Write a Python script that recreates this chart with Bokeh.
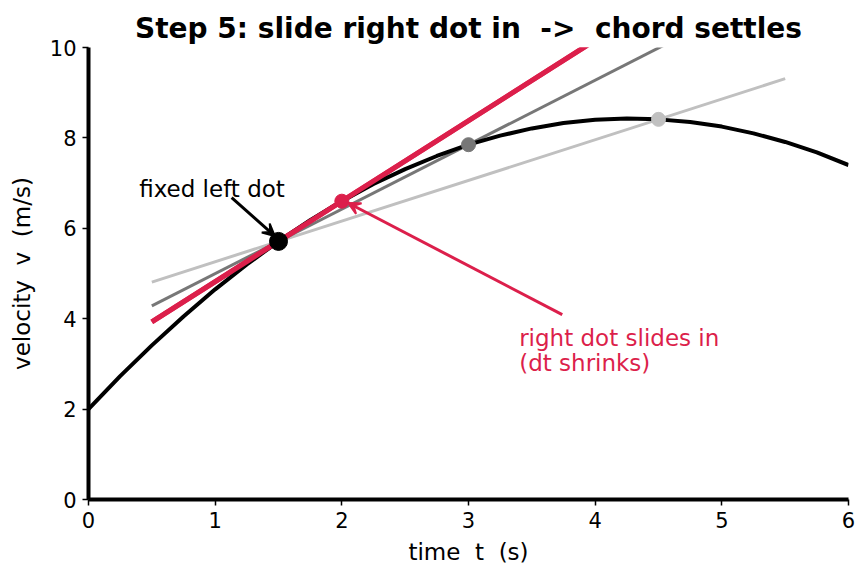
from bokeh.plotting import figure
from bokeh.models import Arrow, VeeHead, Range1d, FixedTicker
from bokeh.embed import file_html
from bokeh.resources import INLINE
from bokeh.core.properties import value

# curve v(t)
curve_t = [0.0, 0.25, 0.5, 0.75, 1.0, 1.25, 1.5, 1.75, 2.0, 2.25, 2.5, 2.75, 3.0,
           3.25, 3.5, 3.75, 4.0, 4.25, 4.5, 4.75, 5.0, 5.25, 5.5, 5.75, 6.0]
curve_v = [2.0, 2.73, 3.41, 4.05, 4.65, 5.20, 5.71, 6.18, 6.60, 6.98, 7.31, 7.60, 7.85,
           8.05, 8.21, 8.33, 8.40, 8.43, 8.41, 8.35, 8.25, 8.10, 7.91, 7.68, 7.40]

left_t, left_v = 1.5, 5.71
right_t = [4.5, 3.0, 2.0]
right_v = [8.41, 7.85, 6.60]
chord_colors = ["#c0c0c0", "#777777", "#dc1f4b"]
chord_widths = [3, 3, 5]
chord_span = [0.5, 5.5]

x_ticks = [0, 1, 2, 3, 4, 5, 6]
y_ticks = [0, 2, 4, 6, 8, 10]

NB = "\u00a0"
title_text = "Step 5: slide right dot in " + NB + "-> " + NB + "chord settles"
x_label = "time " + NB + "t " + NB + "(s)"
y_label = "velocity " + NB + "v " + NB + "(m/s)"

RED = "#dc1f4b"
FONT = "DejaVu Sans"

p = figure(width=868, height=581, output_backend="svg", toolbar_location=None,
           x_range=Range1d(0, 6), y_range=Range1d(0, 10),
           title=title_text,
           min_border_left=88, min_border_right=20, min_border_top=47, min_border_bottom=82)
p.title.align = "center"
p.title.text_font = FONT
p.title.text_font_size = "28px"
p.title.text_font_style = "bold"
p.title.text_color = "black"
p.title.standoff = 6
p.outline_line_color = None
p.grid.visible = False
p.background_fill_color = "white"
p.border_fill_color = "white"

for ax in (p.xaxis, p.yaxis):
    ax.axis_line_width = 4
    ax.axis_line_color = "black"
    ax.major_tick_out = 6
    ax.major_tick_in = 0
    ax.major_tick_line_width = 1.5
    ax.minor_tick_line_color = None
    ax.major_label_text_font = FONT
    ax.major_label_text_font_size = "21px"
    ax.major_label_text_color = "black"
    ax.axis_label_text_font = FONT
    ax.axis_label_text_font_size = "23px"
    ax.axis_label_text_font_style = "normal"
    ax.axis_label_text_color = "black"
p.xaxis.ticker = FixedTicker(ticks=x_ticks)
p.yaxis.ticker = FixedTicker(ticks=y_ticks)
p.xaxis.axis_label = x_label
p.yaxis.axis_label = y_label
p.xaxis.major_label_standoff = 6
p.yaxis.major_label_standoff = 6
p.xaxis.axis_label_standoff = 8
p.yaxis.axis_label_standoff = 12

# chords
for rt, rv, c, w in zip(right_t, right_v, chord_colors, chord_widths):
    slope = (rv - left_v) / (rt - left_t)
    ys = [left_v + slope * (x - left_t) for x in chord_span]
    p.line(chord_span, ys, line_color=c, line_width=w)

p.line(curve_t, curve_v, line_color="black", line_width=4)
# red chord on top of the curve
slope = (right_v[2] - left_v) / (right_t[2] - left_t)
p.line(chord_span, [left_v + slope * (x - left_t) for x in chord_span], line_color=RED, line_width=5)

p.scatter(right_t, right_v, size=14, fill_color=chord_colors, line_color=chord_colors)
p.scatter([left_t], [left_v], size=18, fill_color="black", line_color="black")

p.add_layout(Arrow(end=VeeHead(size=12, fill_color="black", line_color="black", line_width=2),
                   x_start=1.13, y_start=6.68, x_end=1.47, y_end=5.83,
                   line_color="black", line_width=3))
p.add_layout(Arrow(end=VeeHead(size=12, fill_color=RED, line_color=RED, line_width=2),
                   x_start=3.74, y_start=4.09, x_end=2.05, y_end=6.56,
                   line_color=RED, line_width=3))

p.text([0.40], [6.88], text=["fixed left dot"], text_font=value(FONT), text_font_size="23px",
       text_color="black", text_baseline="alphabetic", text_align="left")
p.text([3.40, 3.40], [3.58, 3.01], text=["right dot slides in", "(dt shrinks)"],
       text_font=value(FONT), text_font_size="23px",
       text_color=RED, text_baseline="alphabetic", text_align="left")

open("out.html", "w").write(file_html(p, INLINE))
